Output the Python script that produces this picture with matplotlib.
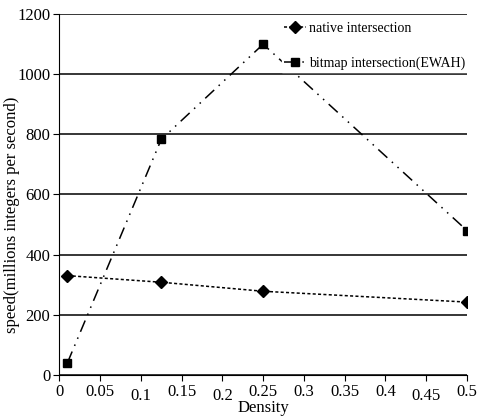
import numpy as np
import matplotlib.pyplot as plt
from matplotlib.transforms import ScaledTranslation

plt.rcParams['font.family'] = ['Liberation Serif', 'DejaVu Serif']

density = [0.01, 0.125, 0.25, 0.5]
native_speed = [330, 308, 278, 242]
bitmap_speed = [40, 783, 1100, 480]
xtick_labels = ['0', '0.05', '0.1', '0.15', '0.2', '0.25', '0.3', '0.35', '0.4', '0.45', '0.5']

fig = plt.figure(figsize=(4.78, 4.16), dpi=100)
ax = fig.add_axes([0.124, 0.099, 0.853, 0.867])

ax.plot(density, native_speed, color='black', linestyle=(0, (2, 1.5)), linewidth=1.1,
        marker='D', markersize=6, label='native intersection')
ax.plot(density, bitmap_speed, color='black', linestyle=(0, (8, 4, 1, 4, 1, 4)), linewidth=1.1,
        marker='s', markersize=6, label='bitmap intersection(EWAH)')

ax.set_xlim(0, 0.5)
ax.set_ylim(0, 1200)
ax.set_xticks(np.arange(0, 0.51, 0.05))
ax.set_xticklabels(xtick_labels)
ax.set_yticks(np.arange(0, 1201, 200))
ax.yaxis.grid(True, color='black', linewidth=1.1)
ax.set_axisbelow(True)
for s in ['top', 'right']:
    ax.spines[s].set_visible(False)
ax.tick_params(direction='out', labelsize=12, length=4, pad=2.5)

# excel-like staggered tick labels
for lab in ax.get_xticklabels():
    if lab.get_text() in ('0.1', '0.2', '0.45'):
        lab.set_transform(lab.get_transform() + ScaledTranslation(0, -3 / 72, fig.dpi_scale_trans))

ax.set_xlabel('Density', fontsize=12)
ax.xaxis.set_label_coords(0.5, -0.07)
ax.set_ylabel('speed(millions integers per second)', fontsize=12)
ax.yaxis.set_label_coords(-0.097, 0.443)

leg = ax.legend(loc='upper right', bbox_to_anchor=(1.0, 0.985), frameon=True, fontsize=10,
                handlelength=1.6, handletextpad=0.2, labelspacing=1.55,
                borderaxespad=0, borderpad=0.15, fancybox=False)
leg.get_frame().set_edgecolor('white')
leg.get_frame().set_facecolor('white')
leg.get_frame().set_alpha(1)

plt.savefig('out.png', dpi=100)
